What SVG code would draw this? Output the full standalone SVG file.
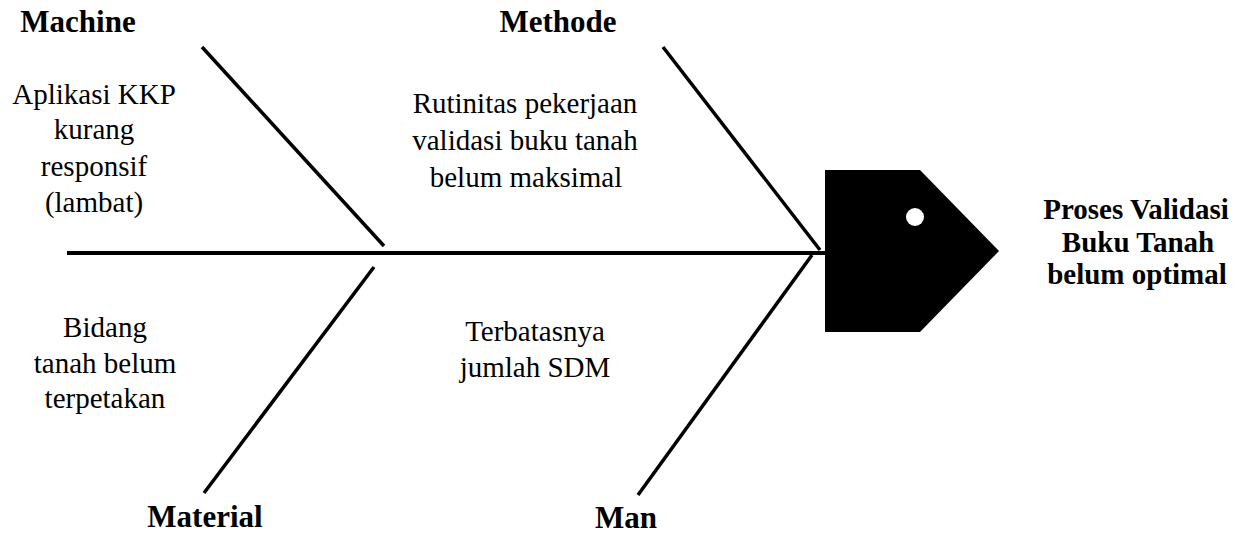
<svg xmlns="http://www.w3.org/2000/svg" width="1242" height="533" viewBox="0 0 1242 533">
<style>
.bone{stroke:#000;stroke-width:3.5;fill:none;stroke-linecap:butt}
.spine{stroke:#000;stroke-width:4;fill:none}
.cat{font-family:"Liberation Serif","Times New Roman",serif;font-weight:bold;font-size:31px;fill:#000;text-anchor:middle}
.cause{font-family:"Liberation Serif","Times New Roman","Tinos","Nimbus Roman","Noto Serif","FreeSerif","DejaVu Serif",serif;font-weight:400;font-size:29px;fill:#000;text-anchor:middle}
.effect{font-family:"Liberation Serif","Times New Roman",serif;font-weight:bold;font-size:29px;fill:#000;text-anchor:middle}
</style>
<rect width="1242" height="533" fill="#fff"/>
<g id="connectors">
<line class="spine" x1="67" y1="253" x2="826" y2="253"/>
<line class="bone" x1="202" y1="47" x2="384" y2="246"/>
<line class="bone" x1="374" y1="267" x2="204" y2="493"/>
<line class="bone" x1="663" y1="47" x2="820" y2="250"/>
<line class="bone" x1="812" y1="255" x2="638" y2="495"/>
</g>
<g id="head">
<polygon points="825,170 920,170 999,251 920,332 825,332" fill="#000"/>
<circle cx="915" cy="217" r="9" fill="#fff"/>
</g>
<g id="effect">
<text class="effect" x="1136" y="219">Proses Validasi</text>
<text class="effect" x="1138" y="252">Buku Tanah</text>
<text class="effect" x="1137" y="284">belum optimal</text>
</g>
<g id="machine">
<text class="cat" x="78" y="32">Machine</text>
<text class="cause" x="94" y="104">Aplikasi KKP</text>
<text class="cause" x="94" y="139">kurang</text>
<text class="cause" x="94" y="176">responsif</text>
<text class="cause" x="94" y="212">(lambat)</text>
</g>
<g id="methode">
<text class="cat" x="558" y="32">Methode</text>
<text class="cause" x="525" y="113">Rutinitas pekerjaan</text>
<text class="cause" x="525" y="150">validasi buku tanah</text>
<text class="cause" x="526" y="187">belum maksimal</text>
</g>
<g id="material">
<text class="cat" x="205" y="527">Material</text>
<text class="cause" x="105" y="337">Bidang</text>
<text class="cause" x="105" y="373">tanah belum</text>
<text class="cause" x="105" y="408">terpetakan</text>
</g>
<g id="man">
<text class="cat" x="626" y="528">Man</text>
<text class="cause" x="535" y="341">Terbatasnya</text>
<text class="cause" x="535" y="377">jumlah SDM</text>
</g>
</svg>
